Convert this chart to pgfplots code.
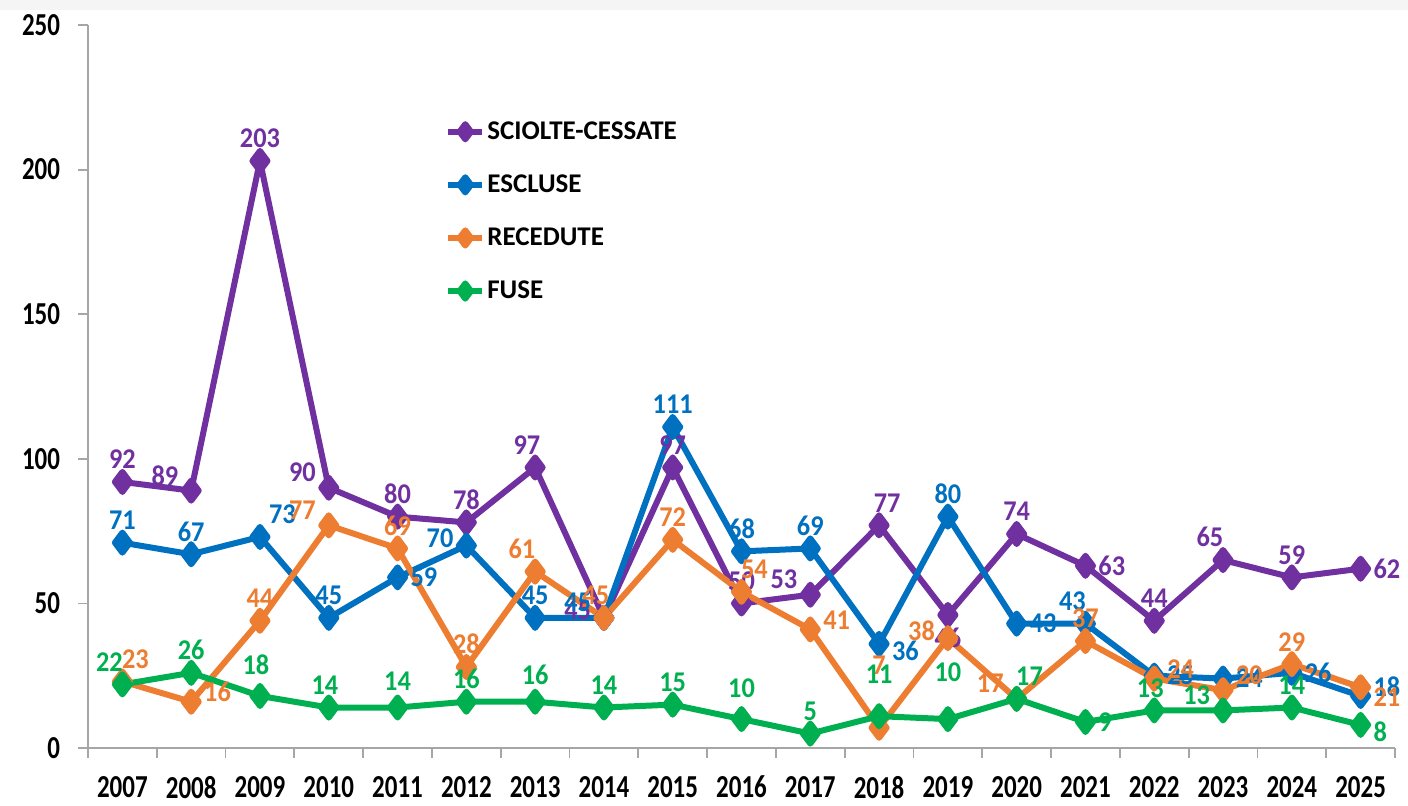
\documentclass[border=0pt]{standalone}
\usepackage{fontspec}
\setmainfont{Carlito}
\newfontfamily\narrowfont[FakeStretch=0.78]{Carlito}
\newfontfamily\labelfont[FakeStretch=0.92]{Carlito}
\usepackage{pgfplots}
\pgfplotsset{compat=1.18}
\definecolor{cPur}{HTML}{7030A0}
\definecolor{cBlu}{HTML}{0070C0}
\definecolor{cOra}{HTML}{ED7D31}
\definecolor{cGre}{HTML}{00B050}
\definecolor{cAxis}{HTML}{A6A6A6}
\definecolor{cTop}{HTML}{F5F5F5}
\begin{document}
\begin{tikzpicture}
\path[use as bounding box] (-44pt,-28.5pt) rectangle (660pt,374pt);
\fill[cTop] (-44pt,369pt) rectangle (660pt,374pt);
\begin{axis}[
  scale only axis, width=653.5pt, height=361.5pt,
  at={(0,0)}, anchor=south west,
  xmin=2006.5, xmax=2025.5, ymin=0, ymax=250,
  axis x line*=bottom, axis y line*=left,
  axis line style={-, cAxis, line width=0.9pt},
  xtick={2006.5,2007.5,...,2025.5}, xticklabels={},
  extra x ticks={2007,2008,...,2025},
  extra x tick labels={2007,2008,2009,2010,2011,2012,2013,2014,2015,2016,2017,2018,2019,2020,2021,2022,2023,2024,2025},
  extra x tick style={major tick length=0pt},
  ytick={0,50,...,250},
  major tick length=5pt, tick align=outside,
  tick style={cAxis, line width=0.9pt},
  /pgf/number format/1000 sep={},
  /pgf/number format/assume math mode=true,
  xticklabel style={font=\narrowfont\bfseries\fontsize{16}{18}\selectfont, yshift=-10.5pt},
  yticklabel style={font=\narrowfont\bfseries\fontsize{16}{18}\selectfont, xshift=-5.5pt},
  legend style={at={(axis description cs:0.273,0.870)}, anchor=north west, draw=none, fill=none,
    font=\bfseries\fontsize{13.5}{15}\selectfont, row sep=14.2pt, inner sep=0pt,
    nodes={inner sep=1pt}},
  legend cell align=left,
]
\addlegendimage{cPur, line width=3pt, mark=diamond*, mark size=3.8pt}
\addlegendentry{SCIOLTE-CESSATE}
\addlegendimage{cBlu, line width=3pt, mark=diamond*, mark size=3.8pt}
\addlegendentry{ESCLUSE}
\addlegendimage{cOra, line width=3pt, mark=diamond*, mark size=3.8pt}
\addlegendentry{RECEDUTE}
\addlegendimage{cGre, line width=3pt, mark=diamond*, mark size=3.8pt}
\addlegendentry{FUSE}
\pgfplotsset{every axis plot/.append style={forget plot, line width=3pt, mark=diamond*, mark size=5pt, line join=round,
  nodes near coords,
  nodes near coords style={font=\labelfont\bfseries\fontsize{14.3}{16}\selectfont, inner sep=5pt}}}
\addplot[color=cPur, visualization depends on={value \thisrow{a}\as\anc},
  every node near coord/.append style={anchor=\anc, text=cPur}] table {
x y a
2007 92 270
2008 89 330
2009 203 270
2010 90 330
2011 80 270
2012 78 270
2013 97 290
2014 45 345
2015 97 270
2016 50 270
2017 53 330
2018 77 250
2019 46 90
2020 74 270
2021 63 180
2022 44 270
2023 65 300
2024 59 270
2025 62 180
};
\addplot[color=cBlu, visualization depends on={value \thisrow{a}\as\anc},
  every node near coord/.append style={anchor=\anc, text=cBlu}] table {
x y a
2007 71 270
2008 67 270
2009 73 225
2010 45 270
2011 59 180
2012 70 345
2013 45 270
2014 45 330
2015 111 270
2016 68 270
2017 69 270
2018 36 165
2019 80 270
2020 43 180
2021 43 300
2022 25 180
2023 24 180
2024 26 180
2025 18 200
};
\addplot[color=cOra, visualization depends on={value \thisrow{a}\as\anc},
  visualization depends on={value \thisrow{s}\as\shf},
  every node near coord/.append style={anchor=\anc, yshift=\shf pt, text=cOra}] table {
x y a s
2007 23 240 0
2008 16 200 0
2009 44 270 0
2010 77 330 0
2011 69 270 0
2012 28 270 0
2013 61 300 0
2014 45 290 0
2015 72 270 0
2016 54 240 0
2017 41 200 0
2018 7 270 20
2019 38 345 0
2020 17 330 0
2021 37 270 0
2022 24 200 0
2023 20 210 0
2024 29 270 0
2025 21 160 0
};
\addplot[color=cGre, visualization depends on={value \thisrow{a}\as\anc},
  visualization depends on={value \thisrow{s}\as\shf},
  every node near coord/.append style={anchor=\anc, yshift=\shf pt, text=cGre}] table {
x y a s
2007 22 300 0
2008 26 270 0
2009 18 280 4
2010 14 280 0
2011 14 270 2
2012 16 270 0
2013 16 270 2
2014 14 270 0
2015 15 270 0
2016 10 270 4
2017 5 270 0
2018 11 270 10
2019 10 270 12
2020 17 240 0
2021 9 180 0
2022 13 280 0
2023 13 330 0
2024 14 270 0
2025 8 160 0
};
\end{axis}
\end{tikzpicture}
\end{document}
